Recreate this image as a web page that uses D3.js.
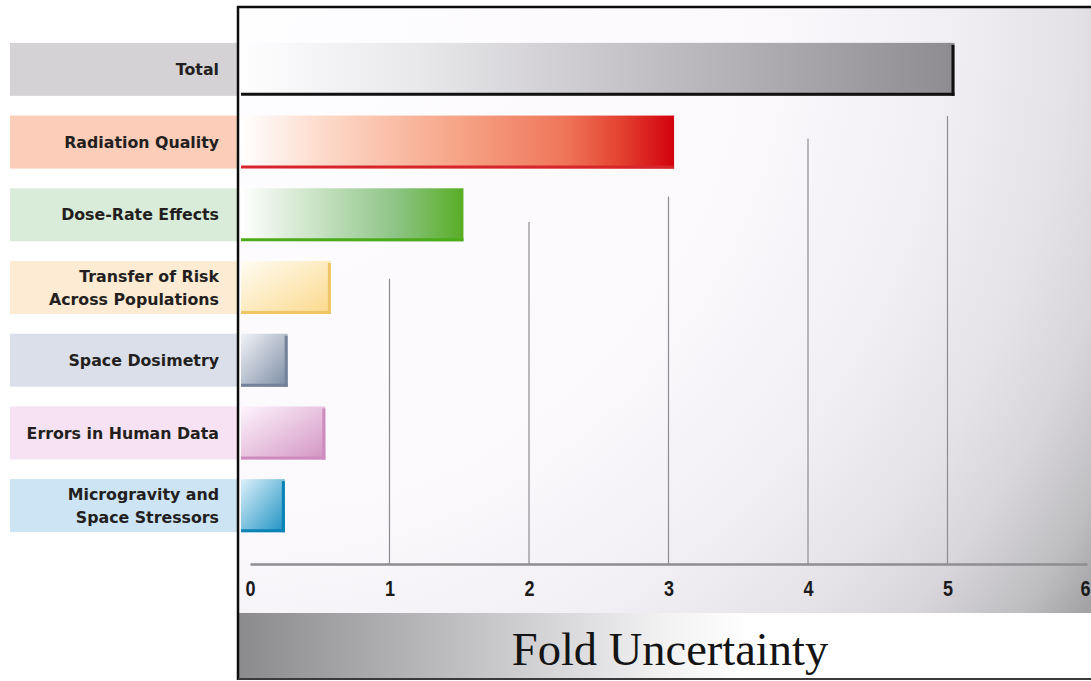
<!DOCTYPE html>
<html>
<head>
<meta charset="utf-8">
<script src="https://cdn.jsdelivr.net/npm/d3@7"></script>
<style>
  html, body { margin: 0; padding: 0; background: #ffffff; }
  svg { display: block; }
  .cat-label { font-family: "DejaVu Sans", Verdana, sans-serif; font-weight: bold; font-size: 15.8px; fill: #231f20; }
  .axis-title { font-family: "Liberation Serif", "Times New Roman", serif; font-size: 46.5px; fill: #141414; }
</style>
</head>
<body>
<svg id="chart" width="1091" height="681"></svg>
<script>
// Sources of uncertainty in the cancer-risk projection (fold uncertainty)
const categories = [
  "Total",
  "Radiation Quality",
  "Dose-Rate Effects",
  "Transfer of Risk\nAcross Populations",
  "Space Dosimetry",
  "Errors in Human Data",
  "Microgravity and\nSpace Stressors"
];
const foldUncertainty = [5.05, 3.04, 1.53, 0.58, 0.27, 0.54, 0.25];
const tickValues = [0, 1, 2, 3, 4, 5, 6];
const axisTitle = "Fold Uncertainty";

// Colour scheme per category: label band, bar gradient stops, edge colour, gradient direction
const styles = [
  { band: "#d5d2d6", stops: [[0, "#fefeff"], [0.25, "#e8e7ea"], [0.55, "#c4c2c6"], [1, "#8f8c91"]], edge: "#111111", diag: false, rightEdge: true },
  { band: "#fccdb8", stops: [[0, "#ffffff"], [0.2, "#fdd8c7"], [0.5, "#f6a487"], [0.75, "#ef7558"], [0.88, "#e3402f"], [1, "#d2000e"]], edge: "#d7262b", diag: false, rightEdge: false },
  { band: "#d9ebd9", stops: [[0, "#ffffff"], [0.3, "#cfe6cb"], [0.7, "#8dc485"], [1, "#58ad25"]], edge: "#4cab18", diag: false, rightEdge: false },
  { band: "#fdebd3", stops: [[0, "#fffcf3"], [1, "#fbd98b"]], edge: "#efc565", diag: true, rightEdge: true },
  { band: "#dbdfea", stops: [[0, "#f1f3f7"], [1, "#7c8ca4"]], edge: "#74839a", diag: true, rightEdge: true },
  { band: "#f6e2f2", stops: [[0, "#fdf4fc"], [1, "#d394c3"]], edge: "#cd8cbd", diag: true, rightEdge: true },
  { band: "#cce4f4", stops: [[0, "#dcf0fa"], [1, "#1c91c2"]], edge: "#0a84b6", diag: true, rightEdge: true }
];

const svg = d3.select("#chart");
const W = 1091, H = 681;

const frameLeft = 238, frameTop = 7, frameBottom = 679;
const bandTop = 613;          // top of the axis-title strip
const axisY = 564;            // baseline of the value axis
const barStart = frameLeft + 3;

const x = d3.scaleLinear().domain([0, 6]).range([250, 1087]);
const y = d3.scaleBand()
  .domain(categories)
  .range([33, 542])
  .paddingInner(0.271)
  .paddingOuter(0.1355);

const defs = svg.append("defs");

// Plot background: white on the left, greying towards the lower right
const bg = defs.append("radialGradient")
  .attr("id", "plotBg")
  .attr("gradientUnits", "userSpaceOnUse")
  .attr("cx", frameLeft).attr("cy", frameTop).attr("r", 1040);
[[0, "#fefdff"], [0.5, "#fbf9fc"], [0.68, "#f1eff3"], [0.8, "#e4e2e6"], [0.87, "#d8d6da"], [0.95, "#bebdc0"], [1, "#a3a2a5"]]
  .forEach(([o, c]) => bg.append("stop").attr("offset", o).attr("stop-color", c));

// Axis-title strip: grey at the left fading to white
const strip = defs.append("linearGradient").attr("id", "stripBg")
  .attr("x1", 0).attr("y1", 0).attr("x2", 1).attr("y2", 0);
[[0, "#8b8a8d"], [0.15, "#a9a8ab"], [0.35, "#d2d1d4"], [0.5, "#f2f2f3"], [0.6, "#ffffff"], [1, "#ffffff"]]
  .forEach(([o, c]) => strip.append("stop").attr("offset", o).attr("stop-color", c));

// Bar gradients
styles.forEach((s, i) => {
  const g = defs.append("linearGradient").attr("id", "barGrad" + i)
    .attr("x1", 0).attr("y1", 0).attr("x2", 1).attr("y2", s.diag ? 1 : 0);
  s.stops.forEach(([o, c]) => g.append("stop").attr("offset", o).attr("stop-color", c));
});

// Plot area background
svg.append("rect")
  .attr("x", frameLeft).attr("y", frameTop)
  .attr("width", W - frameLeft).attr("height", bandTop - frameTop)
  .attr("fill", "url(#plotBg)");

svg.append("rect")
  .attr("x", frameLeft).attr("y", bandTop)
  .attr("width", W - frameLeft).attr("height", frameBottom - bandTop)
  .attr("fill", "url(#stripBg)");

// Gridlines rise in a staircase, each starting a little below the bars it clears
const gridStartRow = { 1: 3.38, 2: 2.6, 3: 2.25, 4: 1.45, 5: 1.14 };
const rowY = r => y.range()[0] + r * y.step();
svg.append("g").selectAll("line")
  .data(tickValues.filter(t => gridStartRow[t] !== undefined))
  .join("line")
  .attr("x1", d => x(d)).attr("x2", d => x(d))
  .attr("y1", d => rowY(gridStartRow[d]))
  .attr("y2", axisY)
  .attr("stroke", "#8d8c90")
  .attr("stroke-width", 1.2);

// Category label bands
const labels = svg.append("g");
labels.selectAll("rect")
  .data(categories)
  .join("rect")
  .attr("x", 10).attr("y", d => y(d))
  .attr("width", frameLeft - 10).attr("height", y.bandwidth())
  .attr("fill", (d, i) => styles[i].band);

labels.selectAll("text")
  .data(categories)
  .join("text")
  .attr("class", "cat-label")
  .attr("text-anchor", "end")
  .each(function (d) {
    const lines = d.split("\n");
    const t = d3.select(this);
    const cy = y(d) + y.bandwidth() / 2;
    const lh = 23;
    lines.forEach((ln, k) => {
      t.append("tspan")
        .attr("x", 219)
        .attr("y", cy + (k - (lines.length - 1) / 2) * lh)
        .attr("dy", "0.36em")
        .text(ln);
    });
  });

// Bars
const bars = svg.append("g");
const barData = categories.map((c, i) => ({ c, v: foldUncertainty[i], s: styles[i], i }));
bars.selectAll("rect.bar")
  .data(barData)
  .join("rect")
  .attr("class", "bar")
  .attr("x", barStart)
  .attr("y", d => y(d.c))
  .attr("width", d => x(d.v) - barStart)
  .attr("height", y.bandwidth())
  .attr("fill", d => "url(#barGrad" + d.i + ")");

// Bottom edge of each bar
bars.selectAll("line.bottom")
  .data(barData)
  .join("line")
  .attr("class", "bottom")
  .attr("x1", barStart)
  .attr("x2", d => x(d.v))
  .attr("y1", d => y(d.c) + y.bandwidth() - 1.5)
  .attr("y2", d => y(d.c) + y.bandwidth() - 1.5)
  .attr("stroke", d => d.s.edge)
  .attr("stroke-width", 3);

// Right edge shading
bars.selectAll("line.right")
  .data(barData.filter(d => d.s.rightEdge))
  .join("line")
  .attr("class", "right")
  .attr("x1", d => x(d.v) - 1.5)
  .attr("x2", d => x(d.v) - 1.5)
  .attr("y1", d => y(d.c) + 2)
  .attr("y2", d => y(d.c) + y.bandwidth())
  .attr("stroke", d => d.s.edge)
  .attr("stroke-width", 3);

// Value axis
const axis = d3.axisBottom(x)
  .tickValues(tickValues)
  .tickFormat(d3.format("d"))
  .tickSize(0)
  .tickSizeOuter(0)
  .tickPadding(16);
const axisG = svg.append("g")
  .attr("transform", `translate(0,${axisY})`)
  .call(axis);
axisG.select(".domain").attr("stroke", "#8e8d90").attr("stroke-width", 2.5);
// Narrow bold digits; the last label is right-aligned so it stays inside the frame
axisG.selectAll(".tick text")
  .style("font-family", "'Liberation Sans Narrow','Arial Narrow','Liberation Sans',sans-serif")
  .style("font-weight", "bold").style("font-size", "22px")
  .attr("fill", "#1a1a1a")
  .attr("transform", "scale(0.82,1)")
  .attr("text-anchor", (d, i, n) => i === n.length - 1 ? "end" : "middle")
  .attr("x", (d, i, n) => i === n.length - 1 ? (W - 1 - x(d)) / 0.82 : 0);

// Axis title
svg.append("text")
  .attr("class", "axis-title")
  .attr("x", 670).attr("y", 665)
  .attr("text-anchor", "middle")
  .text(axisTitle);

// Frame
svg.append("line").attr("x1", frameLeft).attr("x2", frameLeft).attr("y1", frameTop - 1).attr("y2", frameBottom + 1)
  .attr("stroke", "#0d0d0d").attr("stroke-width", 2.5);
svg.append("line").attr("x1", frameLeft - 1).attr("x2", W).attr("y1", frameTop).attr("y2", frameTop)
  .attr("stroke", "#0d0d0d").attr("stroke-width", 2.5);
svg.append("line").attr("x1", frameLeft).attr("x2", W).attr("y1", frameBottom).attr("y2", frameBottom)
  .attr("stroke", "#3a3a3a").attr("stroke-width", 2);
</script>
</body>
</html>
